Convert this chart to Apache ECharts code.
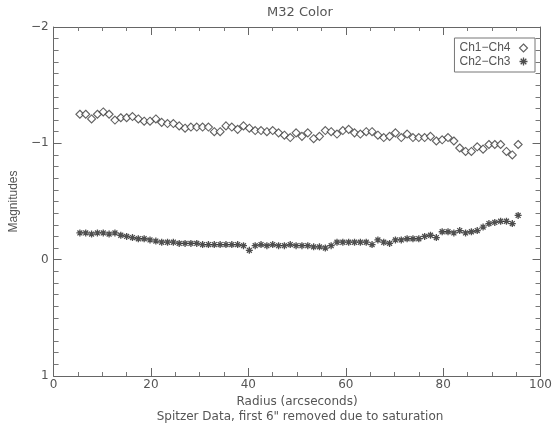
<!DOCTYPE html>
<html>
<head>
<meta charset="utf-8">
<script src="https://cdn.jsdelivr.net/npm/echarts@6/dist/echarts.min.js"></script>
<style>
  html, body { margin: 0; padding: 0; background: #fff; }
  #chart { width: 555px; height: 432px; }
</style>
</head>
<body>
<div id="chart"></div>
<script>
// Radial sampling (arcseconds), one point per 1.2" IRAC pixel
const radius = [5.4, 6.6, 7.8, 9.0, 10.2, 11.4, 12.6, 13.8, 15.0, 16.2, 17.4, 18.6, 19.8, 21.0, 22.2, 23.4,
  24.6, 25.8, 27.0, 28.2, 29.4, 30.6, 31.8, 33.0, 34.2, 35.4, 36.6, 37.8, 39.0, 40.2, 41.4, 42.6, 43.8, 45.0,
  46.2, 47.4, 48.6, 49.8, 51.0, 52.2, 53.4, 54.6, 55.8, 57.0, 58.2, 59.4, 60.6, 61.8, 63.0, 64.2, 65.4, 66.6,
  67.8, 69.0, 70.2, 71.4, 72.6, 73.8, 75.0, 76.2, 77.4, 78.6, 79.8, 81.0, 82.2, 83.4, 84.6, 85.8, 87.0, 88.2,
  89.4, 90.6, 91.8, 93.0, 94.2, 95.4];

// Ch1 - Ch4 colour (magnitudes)
const ch1ch4 = [-1.25, -1.25, -1.21, -1.25, -1.27, -1.25, -1.20, -1.22, -1.22, -1.23,
  -1.21, -1.19, -1.19, -1.21, -1.18, -1.17, -1.17, -1.15, -1.13, -1.14,
  -1.14, -1.14, -1.14, -1.10, -1.10, -1.15, -1.14, -1.12, -1.15, -1.13,
  -1.11, -1.11, -1.10, -1.11, -1.09, -1.07, -1.05, -1.09, -1.06, -1.09,
  -1.04, -1.06, -1.11, -1.10, -1.08, -1.11, -1.12, -1.09, -1.08, -1.10,
  -1.10, -1.07, -1.05, -1.06, -1.09, -1.05, -1.08, -1.05, -1.05, -1.05,
  -1.06, -1.02, -1.03, -1.05, -1.02, -0.96, -0.93, -0.93, -0.97, -0.95,
  -0.99, -0.99, -0.99, -0.93, -0.90, -0.99];

// Ch2 - Ch3 colour (magnitudes)
const ch2ch3 = [-0.23, -0.23, -0.22, -0.23, -0.23, -0.22, -0.23, -0.21, -0.20, -0.19,
  -0.18, -0.18, -0.17, -0.16, -0.15, -0.15, -0.15, -0.14, -0.14, -0.14,
  -0.14, -0.13, -0.13, -0.13, -0.13, -0.13, -0.13, -0.13, -0.12, -0.08,
  -0.12, -0.13, -0.12, -0.13, -0.12, -0.12, -0.13, -0.12, -0.12, -0.12,
  -0.11, -0.11, -0.10, -0.12, -0.15, -0.15, -0.15, -0.15, -0.15, -0.15,
  -0.13, -0.17, -0.15, -0.14, -0.17, -0.17, -0.18, -0.18, -0.18, -0.20,
  -0.21, -0.19, -0.24, -0.24, -0.23, -0.25, -0.23, -0.24, -0.25, -0.28,
  -0.31, -0.32, -0.33, -0.33, -0.31, -0.38];

const xTicks = [0, 20, 40, 60, 80, 100];
const yTicks = [-2, -1, 0, 1];

const ink = '#555';
const font = 'DejaVu Sans, Verdana, sans-serif';
const narrowFont = 'Liberation Sans, Arial, sans-serif';
const minus = v => String(v).replace('-', '\u2212');

// Asterisk marker: plus and cross overlaid
const asterisk = 'path://M0,5L10,5M5,0L5,10M1.5,1.5L8.5,8.5M8.5,1.5L1.5,8.5';
const diamondStyle = { color: '#fff', borderColor: '#3a3a3a', borderWidth: 1.1 };
const asteriskStyle = { color: 'none', borderColor: '#222', borderWidth: 1.3 };

const boxAxis = (extra) => Object.assign({
  axisLine: { show: true, onZero: false, lineStyle: { color: '#666', width: 1 } },
  axisTick: { show: true, inside: true, length: 8, lineStyle: { color: '#666' } },
  splitLine: { show: false },
  minorSplitLine: { show: false }
}, extra);

const chart = echarts.init(document.getElementById('chart'), null, { renderer: 'canvas' });

chart.setOption({
  backgroundColor: '#fff',
  animation: false,
  textStyle: { fontFamily: font, color: ink },
  title: [
    { text: 'M32 Color', left: 295, top: 1, textAlign: 'center',
      textStyle: { fontSize: 13, fontWeight: 'normal', color: ink, fontFamily: font } },
    { text: 'Spitzer Data, first 6" removed due to saturation', left: 295, top: 406, textAlign: 'center',
      textStyle: { fontSize: 12, fontWeight: 'normal', color: ink, fontFamily: font } }
  ],
  grid: { left: 50, top: 27, right: 14, bottom: 56, containLabel: false },
  legend: {
    orient: 'vertical',
    right: 20, top: 38,
    align: 'right',
    padding: [4, 5, 4, 5],
    itemGap: 1,
    itemWidth: 8, itemHeight: 8,
    borderColor: '#777', borderWidth: 1,
    backgroundColor: '#fff',
    textStyle: { fontSize: 12, lineHeight: 12, color: ink, fontFamily: narrowFont, padding: [0, 4, 0, 0] },
    data: [
      { name: 'Ch1\u2212Ch4', icon: 'diamond', itemStyle: diamondStyle },
      { name: 'Ch2\u2212Ch3', icon: asterisk, itemStyle: asteriskStyle }
    ]
  },
  xAxis: [
    boxAxis({
      type: 'value', position: 'bottom', min: xTicks[0], max: xTicks[xTicks.length - 1], interval: 20,
      minorTick: { show: true, splitNumber: 4, length: 4, lineStyle: { color: '#777' } },
      axisLabel: { show: true, margin: 3, fontSize: 12, color: ink, fontFamily: font },
      name: 'Radius (arcseconds)', nameLocation: 'middle', nameGap: 15,
      nameTextStyle: { fontSize: 12, color: ink, fontFamily: font }
    }),
    boxAxis({
      type: 'value', position: 'top', min: xTicks[0], max: xTicks[xTicks.length - 1], interval: 20,
      minorTick: { show: true, splitNumber: 4, length: 4, lineStyle: { color: '#777' } },
      axisLabel: { show: false }
    })
  ],
  yAxis: [
    boxAxis({
      type: 'value', position: 'left', inverse: true, min: yTicks[0], max: yTicks[yTicks.length - 1], interval: 1,
      minorTick: { show: true, splitNumber: 10, length: 5, lineStyle: { color: '#777' } },
      axisLabel: { show: true, margin: 5, fontSize: 12, color: ink, fontFamily: font, formatter: minus },
      name: 'Magnitudes', nameLocation: 'middle', nameGap: 30, nameRotate: 90,
      nameTextStyle: { fontSize: 12, color: ink, fontFamily: narrowFont }
    }),
    boxAxis({
      type: 'value', position: 'right', inverse: true, min: yTicks[0], max: yTicks[yTicks.length - 1], interval: 1,
      minorTick: { show: true, splitNumber: 10, length: 5, lineStyle: { color: '#777' } },
      axisLabel: { show: false }
    })
  ],
  series: [
    {
      name: 'Ch1\u2212Ch4',
      type: 'scatter',
      symbol: 'diamond',
      symbolSize: 8,
      itemStyle: diamondStyle,
      data: radius.map((r, i) => [r, ch1ch4[i]])
    },
    {
      name: 'Ch2\u2212Ch3',
      type: 'scatter',
      symbol: asterisk,
      symbolSize: 7,
      itemStyle: asteriskStyle,
      data: radius.map((r, i) => [r, ch2ch3[i]])
    }
  ]
});
</script>
</body>
</html>
